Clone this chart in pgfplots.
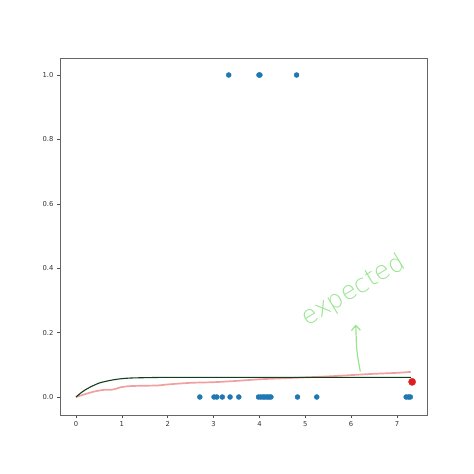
\documentclass[border=0pt]{standalone}
\usepackage{pgfplots}
\pgfplotsset{compat=1.18}
\usepackage{fontspec}
\setmainfont{DejaVu Sans}
\newfontfamily\handfont{DejaVu Sans ExtraLight}
\usetikzlibrary{arrows.meta}

\definecolor{mplblue}{RGB}{31,119,180}
\definecolor{fitgreen}{RGB}{20,60,30}
\definecolor{expred}{RGB}{240,160,160}
\definecolor{handgreen}{RGB}{150,230,140}
\definecolor{ptred}{RGB}{225,30,30}

\begin{document}
\begin{tikzpicture}
\useasboundingbox (-60pt,-59pt) rectangle (414pt,415pt);
\begin{axis}[
    scale only axis,
    width=367pt, height=357pt,
    xmin=-0.349, xmax=7.654,
    ymin=-0.0559, ymax=1.0528,
    xtick={0,1,...,7},
    ytick={0,0.2,0.4,0.6,0.8,1.0},
    yticklabel style={/pgf/number format/.cd, fixed, fixed zerofill, precision=1},
    /pgf/number format/assume math mode=true,
    tick align=outside,
    tick pos=left,
    major tick length=3pt,
    tick style={black!70, line width=0.5pt},
    axis line style={black!60, line width=0.6pt},
    ticklabel style={font=\fontsize{6.8}{7}\selectfont, text=black!80},
    clip=false,
]
% observations
\addplot[only marks, mark=*, mark size=2.5pt, color=mplblue] coordinates {
    (3.33,1) (3.99,1) (4.01,1) (4.81,1)
    (2.70,0) (3.01,0) (3.07,0) (3.19,0) (3.36,0) (3.55,0)
    (3.98,0) (4.03,0) (4.08,0) (4.12,0) (4.17,0) (4.21,0) (4.25,0)
    (4.83,0) (5.25,0) (7.20,0) (7.25,0) (7.29,0)
};
% expected (empirical) curve
\addplot[color=expred, line width=1.7pt, smooth] coordinates {
    (0,0) (0.2,0.009) (0.4,0.017) (0.6,0.022) (0.8,0.023) (1.0,0.031)
    (1.2,0.034) (1.5,0.035) (1.8,0.036) (2.0,0.039) (2.5,0.044)
    (3.0,0.046) (3.5,0.050) (4.0,0.055) (4.5,0.058) (5.0,0.061)
    (5.5,0.064) (6.0,0.068) (6.5,0.072) (7.0,0.075) (7.3,0.078)
};
% fitted curve
\addplot[color=fitgreen, line width=1.1pt, smooth] coordinates {
    (0,0) (0.1,0.012) (0.2,0.022) (0.3,0.030) (0.4,0.037) (0.5,0.043)
    (0.6,0.047) (0.8,0.053) (1.0,0.057) (1.2,0.059) (1.5,0.060)
    (2.0,0.061) (3.0,0.061) (4.0,0.061) (5.0,0.061) (6.0,0.061) (7.3,0.061)
};
% single red point
\addplot[only marks, mark=*, mark size=3.6pt, color=ptred] coordinates {(7.33,0.047)};
% handwritten annotation
\draw[handgreen, line width=1.2pt, -{Straight Barb[length=5pt,width=9pt]}]
    (axis cs:6.20,0.079) .. controls (axis cs:6.12,0.14) .. (axis cs:6.10,0.225);
\node[handgreen, rotate=31, font=\handfont\fontsize{25}{25}\selectfont]
    at (axis cs:6.05,0.33) {expected};
\end{axis}
\end{tikzpicture}
\end{document}
